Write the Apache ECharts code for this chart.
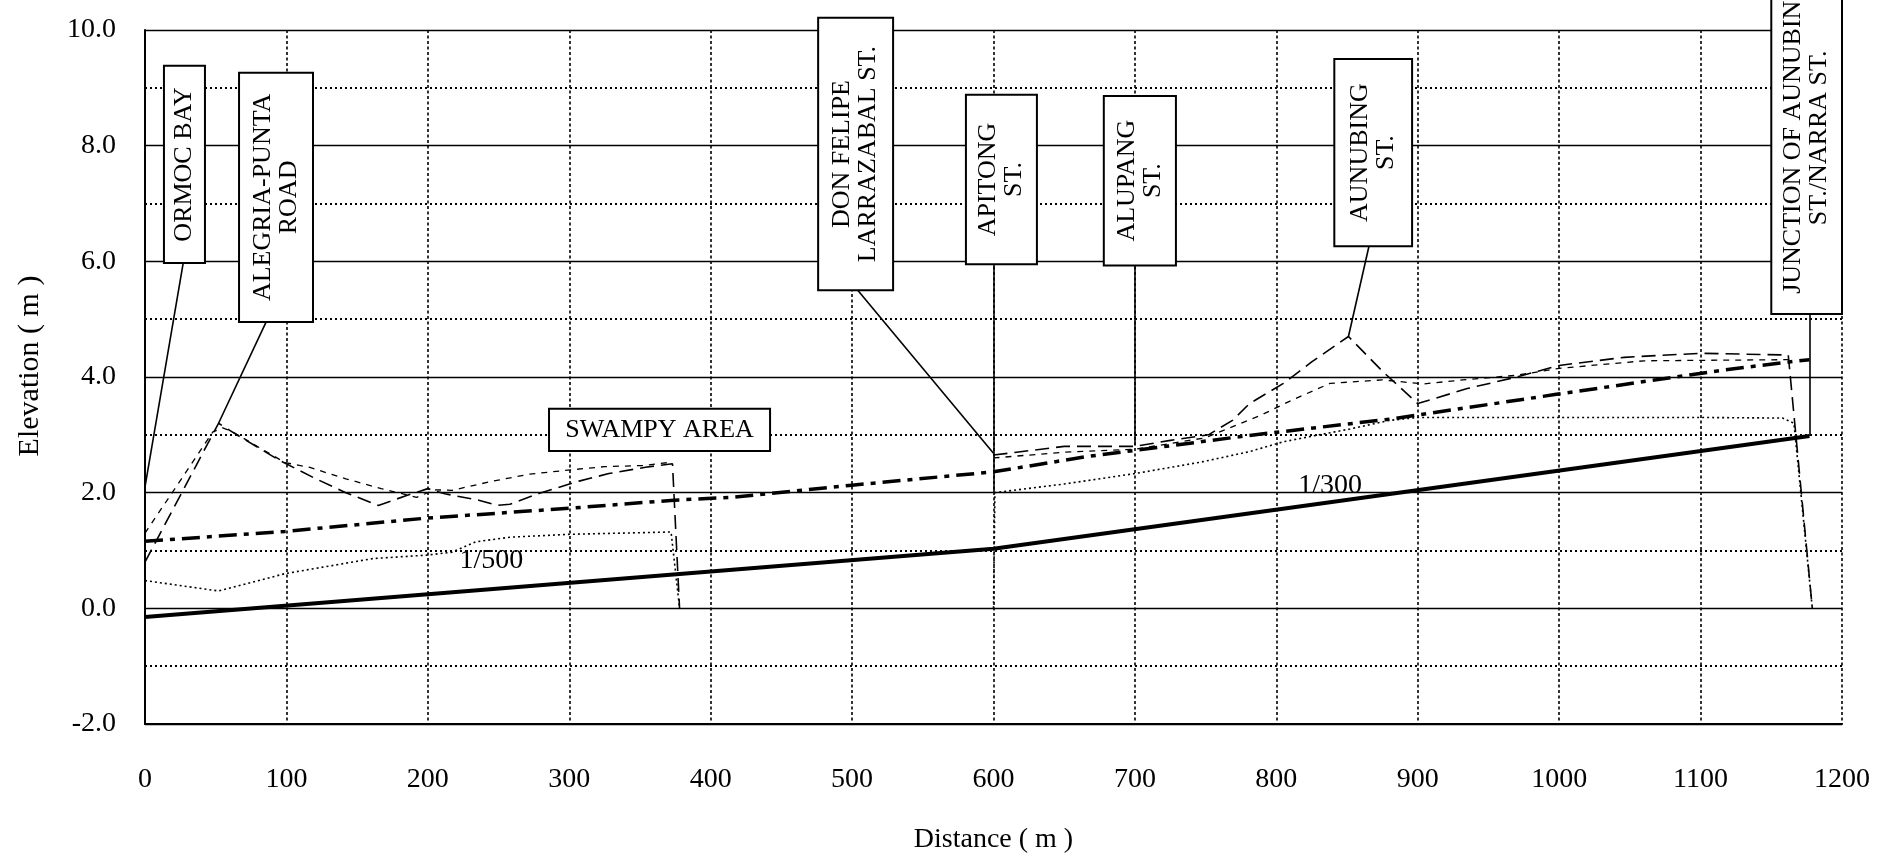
<!DOCTYPE html>
<html><head><meta charset="utf-8">
<script src="https://cdn.jsdelivr.net/npm/echarts@6/dist/echarts.min.js"></script>
<style>html,body{margin:0;padding:0;background:#fff}#c{width:1879px;height:853px}</style>
</head><body><div id="c"></div>
<script>
// ---- data (distance m, elevation m) ----
const designGrade = [[0,-0.15],[600,1.03],[1177,2.98]];
const waterLevel = [[0,1.16],[99,1.33],[199,1.56],[300,1.73],[374,1.87],[416,1.92],[500,2.13],[600,2.36],[665,2.62],[781,2.99],[883,3.28],[998,3.7],[1116,4.12],[1166,4.27],[1177,4.3]];
const bankLongLeft = [[0,0.8],[52,3.2],[65,3.0],[95,2.56],[120,2.25],[142,2.0],[165,1.78],[185,1.95],[200,2.07],[212,1.98],[236,1.87],[249,1.78],[258,1.8],[279,1.99],[307,2.2],[328,2.33],[354,2.44],[373,2.5],[378,0]];
const bankShortLeft = [[0,1.3],[48,3.05],[55,3.12],[62,3.05],[99,2.52],[116,2.44],[142,2.24],[167,2.07],[192,1.92],[205,2.05],[217,2.04],[246,2.2],[272,2.32],[299,2.39],[325,2.45],[352,2.47],[370,2.52]];
const bedDottedLeft = [[0,0.48],[52,0.3],[99,0.6],[161,0.86],[199,0.92],[217,0.97],[234,1.15],[258,1.23],[300,1.28],[372,1.32],[378,0]];
const bankLongRight = [[600,2.65],[650,2.8],[700,2.8],[724,2.9],[752,3.0],[769,3.25],[781,3.54],[805,3.89],[825,4.26],[851,4.7],[875,4.1],[900,3.54],[935,3.8],[970,4.0],[1000,4.2],[1046,4.34],[1100,4.41],[1162,4.38],[1179,0]];
const bankShortRight = [[600,2.6],[650,2.7],[700,2.75],[750,2.95],[790,3.35],[811,3.6],[838,3.89],[875,3.95],[904,3.88],[932,3.95],[970,4.03],[1000,4.15],[1060,4.28],[1162,4.3]];
const bedDottedRight = [[600,0],[601,2.0],[650,2.15],[700,2.33],[747,2.53],[781,2.71],[805,2.88],[828,2.99],[852,3.1],[880,3.25],[900,3.3],[1000,3.3],[1100,3.3],[1158,3.29],[1166,3.2],[1179,0]];

const gradeLabels = ['1/500','1/300'];
const gradeLabelPos = [[245,0.82],[838,2.12]];

const boxLabels = ['ORMOC BAY','ALEGRIA-PUNTA\nROAD','SWAMPY AREA','DON FELIPE\nLARRAZABAL ST.','APITONG\nST.','ALUPANG\nST.','AUNUBING\nST.','JUNCTION OF AUNUBING\nST./NARRA ST.'];
// [left distance, right distance, bottom elevation, top elevation]
const boxExtents = [[13.4,42.4,5.97,9.38],[66.5,118.8,4.95,9.26],[285.7,442,2.72,3.45],[476,529,5.5,10.21],[580.5,630.7,5.95,8.88],[678,729,5.93,8.86],[841,896,6.26,9.5],[1150,1200,5.09,11.18]];
const boxVertical = [true,true,false,true,true,true,true,true];
const leaders = [[[27,5.97],[0,2.1]],[[85.6,4.95],[52,3.2]],[[504,5.5],[600,2.68]],[[600.3,5.95],[600.3,2.0]],[[700,5.93],[700,2.82]],[[865.5,6.26],[851,4.7]],[[1177,5.09],[1177,2.98]]];

const FONT = '"Liberation Serif","Times New Roman",serif';
const chart = echarts.init(document.getElementById('c'), null, {renderer:'canvas'});

function lineSeries(data, width, type){
  return {type:'line', data:data, symbol:'none', showSymbol:false, silent:true, animation:false,
    lineStyle:{color:'#000', width:width, type:type}, z:2};
}

const option = {
  animation:false,
  backgroundColor:'#fff',
  grid:{left:145, right:37, top:30, bottom:129, containLabel:false, outerBoundsMode:'none'},
  xAxis:{type:'value', min:0, max:1200, interval:100,
    name:'Distance ( m )', nameLocation:'middle', nameGap:102,
    nameTextStyle:{fontFamily:FONT, fontSize:28, color:'#000'},
    axisLine:{onZero:false, lineStyle:{color:'#000', width:2}},
    axisTick:{show:false},
    axisLabel:{fontFamily:FONT, fontSize:28, color:'#000', margin:42, formatter:v=>String(v)},
    splitLine:{show:true, lineStyle:{color:'#000', width:1.6, type:[3,2.5]}}},
  yAxis:{type:'value', min:-2, max:10, interval:2,
    name:'Elevation ( m )', nameLocation:'middle', nameGap:100,
    nameTextStyle:{fontFamily:FONT, fontSize:30, color:'#000', padding:[0,0,0,22]},
    axisLine:{onZero:false, lineStyle:{color:'#000', width:2}},
    axisTick:{show:false},
    axisLabel:{fontFamily:FONT, fontSize:28, color:'#000', margin:29, formatter:v=>v.toFixed(1)},
    splitLine:{show:true, lineStyle:{color:'#000', width:1.3, type:'solid'}},
    minorTick:{show:false, splitNumber:2},
    minorSplitLine:{show:true, lineStyle:{color:'#000', width:1.8, type:[2,3]}}},
  series:[
    lineSeries(designGrade, 4, 'solid'),
    lineSeries(waterLevel, 3.5, [18,7,5,7]),
    lineSeries(bankLongLeft, 1.6, [14,7]),
    lineSeries(bankShortLeft, 1.3, [6,6]),
    lineSeries(bedDottedLeft, 1.6, [2,3]),
    lineSeries(bankLongRight, 1.6, [14,7]),
    lineSeries(bankShortRight, 1.3, [6,6]),
    lineSeries(bedDottedRight, 1.6, [2,3]),
    {type:'lines', coordinateSystem:'cartesian2d', silent:true, animation:false, z:3,
      data: leaders.map(c=>({coords:c})),
      lineStyle:{color:'#000', width:1.6, opacity:1}},
    {type:'scatter', silent:true, animation:false, z:4, symbolSize:1,
      itemStyle:{color:'rgba(0,0,0,0)'},
      data: gradeLabels.map((n,i)=>({name:n, value:gradeLabelPos[i]})),
      label:{show:true, position:'inside', formatter:p=>p.name, fontFamily:FONT, fontSize:28, color:'#000', opacity:1}},
    {type:'custom', silent:true, animation:false, z:5, clip:false,
      encode:{x:[0,1], y:[2,3]},
      data: boxExtents,
      renderItem:function(params, api){
        const i = params.dataIndex;
        const tl = api.coord([api.value(0), api.value(3)]);
        const br = api.coord([api.value(1), api.value(2)]);
        const cx = (tl[0]+br[0])/2, cy = (tl[1]+br[1])/2;
        return {type:'group', children:[
          {type:'rect', shape:{x:tl[0], y:tl[1], width:br[0]-tl[0], height:br[1]-tl[1]},
            style:{fill:'#fff', stroke:'#000', lineWidth:2}},
          {type:'text', x:cx, y:cy, rotation: boxVertical[i] ? Math.PI/2 : 0,
            style:{text:boxLabels[i], fontFamily:FONT, fontSize:26, lineHeight:26, fill:'#000',
              align:'center', verticalAlign:'middle'}}
        ]};
      }}
  ]
};
chart.setOption(option);
</script></body></html>
